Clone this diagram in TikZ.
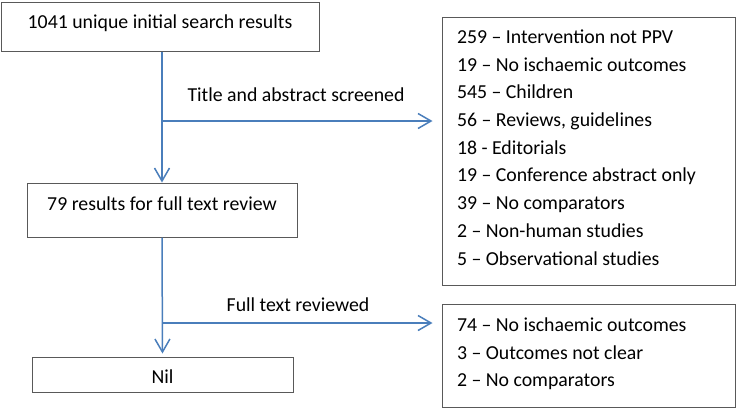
\documentclass[tikz,border=0pt]{standalone}
\usepackage{fontspec}
\setmainfont{Carlito}
\usetikzlibrary{arrows.meta}
\definecolor{flowblue}{HTML}{4A7EBB}
\definecolor{boxgray}{HTML}{595959}
\begin{document}
\begin{tikzpicture}[x=1pt, y=-1pt,
  font=\fontsize{19.8pt}{27.7pt}\selectfont,
  stagebox/.style={shape=rectangle, draw=boxgray, line width=1pt, align=flush center, inner sep=0pt},
  exclbox/.style={shape=rectangle, draw=boxgray, line width=1pt, align=flush left, inner xsep=15pt, inner ysep=0pt, text width=263pt, minimum width=293pt, text height=14pt},
  flow/.style={draw=flowblue, line width=1.5pt, -{Straight Barb[length=13pt, width=15pt, line width=1.5pt]}}]

\useasboundingbox (0,0) rectangle (737,410);

\node[stagebox, minimum width=318pt, minimum height=49pt, text height=14pt, text depth=11pt] (in1) at (160.0,26.5) {1041 unique initial search results};
\node[stagebox, minimum width=270pt, minimum height=54pt, text height=14pt, text depth=14pt] (ft) at (162.0,210.0) {79 results for full text review};
\node[stagebox, minimum width=261pt, minimum height=35pt, text height=20pt, text depth=3pt] (nil) at (162.5,374.5) {Nil};
\node[exclbox, minimum height=268pt, text depth=229.6pt] (ex1) at (588.5,151.2) {259 -- Intervention not PPV\\19 -- No ischaemic outcomes\\545 -- Children\\56 -- Reviews, guidelines\\18 - Editorials\\19 -- Conference abstract only\\39 -- No comparators\\2 -- Non-human studies\\5 -- Observational studies};
\node[exclbox, minimum height=103pt, text depth=62.4pt] (ex2) at (588.5,355.5) {74 -- No ischaemic outcomes\\3 -- Outcomes not clear\\2 -- No comparators};

\coordinate (s1) at (162.0,121.0);
\coordinate (s2) at (162.0,323.0);
\node (l1) at (296.0,95.0) {Title and abstract screened};
\node (l2) at (298.0,305.0) {Full text reviewed};

\draw[flow] (ft.north |- in1.south) -- (ft.north);
\draw[flow, shorten >=3pt] (ft.south) -- (nil.north);
\draw[flow, shorten >=9pt] (s1) -- (s1 -| ex1.west);
\draw[flow, shorten >=9pt] (s2) -- (s2 -| ex2.west);
\end{tikzpicture}
\end{document}
